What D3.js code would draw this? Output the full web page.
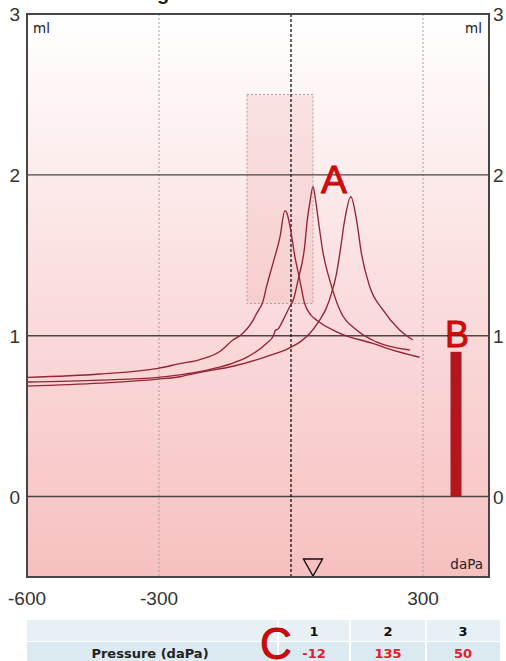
<!DOCTYPE html>
<html>
<head>
<meta charset="utf-8">
<script src="https://cdn.jsdelivr.net/npm/d3@7/dist/d3.min.js"></script>
<style>
  html, body { margin: 0; padding: 0; background: #ffffff; }
  svg { display: block; }
</style>
</head>
<body>
<svg id="chart" width="506" height="661"></svg>
<script>
// ---------- DATA ----------
const yTicks = [0, 1, 2, 3];
const xTickLabels = [-600, -300, 300];
const xGridDotted = [-300, 300];

// Test 1: peak at -12 daPa
const test1 = [
  [-600, 0.741], [-434, 0.762], [-302, 0.797], [-253, 0.826], [-207, 0.852],
  [-160, 0.905], [-132, 0.973], [-116, 1.0], [-86, 1.097], [-78, 1.139],
  [-63, 1.22], [-56, 1.30], [-41, 1.45], [-25, 1.615], [-14, 1.778],
  [-9, 1.76], [-3, 1.69], [9, 1.49], [20, 1.346], [31, 1.20],
  [45, 1.13], [58, 1.097], [111, 1.015], [186, 0.952], [224, 0.917], [292, 0.866]
];
// Test 2: peak at 135 daPa
const test2 = [
  [-600, 0.687], [-434, 0.705], [-302, 0.730], [-253, 0.745], [-207, 0.772],
  [-132, 0.81], [-56, 0.87], [-3, 0.925], [20, 0.96], [43, 1.015], [65, 1.097],
  [80, 1.17], [92, 1.263], [103, 1.38], [111, 1.512], [122, 1.719], [136, 1.864],
  [149, 1.719], [160, 1.512], [179, 1.304], [209, 1.16], [247, 1.035], [277, 0.973]
];
// Test 3: peak at 50 daPa
const test3 = [
  [-600, 0.712], [-434, 0.724], [-302, 0.741], [-253, 0.757], [-207, 0.776],
  [-177, 0.795], [-132, 0.83], [-101, 0.865], [-56, 0.952], [-40, 1.0],
  [-35, 1.035], [-30, 1.04], [-18, 1.097], [-3, 1.18], [5, 1.22], [16, 1.346],
  [31, 1.553], [37, 1.72], [43, 1.83], [50, 1.926], [56, 1.84], [62, 1.719],
  [73, 1.512], [88, 1.346], [111, 1.16], [149, 1.035], [194, 0.962], [270, 0.911]
];
const curves = [test1, test2, test3];

const normalBox = { x0: -100, x1: 50, y0: 1.2, y1: 2.5 };
const volumeBar = { pressure: 375, value: 0.90 };
const markerPressure = 50;

const tableHeaders = ["1", "2", "3"];
const tableRowLabel = "Pressure (daPa)";
const tableValues = ["-12", "135", "50"];

// ---------- LAYOUT ----------
const svg = d3.select("#chart");
const L = 27, R = 489, T = 14, B = 577;

const x = d3.scaleLinear().domain([-600, 450]).range([L, R]);
const y = d3.scaleLinear().domain([-0.5, 3]).range([B, T]);

// background gradient
const defs = svg.append("defs");
const grad = defs.append("linearGradient").attr("id", "bg")
  .attr("x1", 0).attr("y1", 0).attr("x2", 0).attr("y2", 1);
grad.append("stop").attr("offset", "0%").attr("stop-color", "#ffffff");
grad.append("stop").attr("offset", "45%").attr("stop-color", "#fbe0e0");
grad.append("stop").attr("offset", "100%").attr("stop-color", "#f7c0c0");

svg.append("rect").attr("x", L).attr("y", T).attr("width", R - L).attr("height", B - T)
  .attr("fill", "url(#bg)");

// title (cut off at the top edge; only a descender shows)
const title = svg.append("text").attr("y", 0)
  .attr("font-family", "Liberation Sans, Arial, sans-serif")
  .attr("font-weight", "bold").attr("font-size", 20).attr("fill", "#222")
  .text("Right");
const tmp = svg.append("text").attr("font-family", "Liberation Sans, Arial, sans-serif")
  .attr("font-weight", "bold").attr("font-size", 20).text("Ri");
const w = tmp.node().getComputedTextLength();
tmp.remove();
title.attr("x", 157 - w);

// normal region box
svg.append("rect")
  .attr("x", x(normalBox.x0)).attr("y", y(normalBox.y1))
  .attr("width", x(normalBox.x1) - x(normalBox.x0))
  .attr("height", y(normalBox.y0) - y(normalBox.y1))
  .attr("fill", "rgba(236,160,160,0.22)")
  .attr("stroke", "#a8a0a0").attr("stroke-width", 1).attr("stroke-dasharray", "2,2");

// dotted vertical grid
svg.selectAll(".vgrid").data(xGridDotted).enter().append("line")
  .attr("x1", d => x(d)).attr("x2", d => x(d)).attr("y1", T).attr("y2", B)
  .attr("stroke", "#a8a0a0").attr("stroke-width", 1).attr("stroke-dasharray", "2,2");

// horizontal grid
svg.selectAll(".hgrid").data([0, 1, 2]).enter().append("line")
  .attr("x1", L).attr("x2", R).attr("y1", d => y(d)).attr("y2", d => y(d))
  .attr("stroke", "#4a4545").attr("stroke-width", 1.4);

// zero pressure dashed line
svg.append("line").attr("x1", x(0)).attr("x2", x(0)).attr("y1", T).attr("y2", B)
  .attr("stroke", "#111").attr("stroke-width", 1.3).attr("stroke-dasharray", "3,2");

// curves
const line = d3.line().x(d => x(d[0])).y(d => y(d[1])).curve(d3.curveMonotoneX);
svg.selectAll(".curve").data(curves).enter().append("path")
  .attr("d", line).attr("fill", "none")
  .attr("stroke", "#932434").attr("stroke-width", 1.35);

// volume bar
svg.append("rect")
  .attr("x", x(volumeBar.pressure) - 5.5).attr("width", 11)
  .attr("y", y(volumeBar.value)).attr("height", y(0) - y(volumeBar.value))
  .attr("fill", "#b3171d");

// marker triangle
const mx = x(markerPressure);
svg.append("path")
  .attr("d", `M${mx - 9.5},${B - 18} L${mx + 9.5},${B - 18} L${mx},${B - 1} Z`)
  .attr("fill", "none").attr("stroke", "#111").attr("stroke-width", 1.4);

// frame
svg.append("rect").attr("x", L).attr("y", T).attr("width", R - L).attr("height", B - T)
  .attr("fill", "none").attr("stroke", "#4a4545").attr("stroke-width", 2);

// axis labels
const tickFont = "Liberation Sans, Arial, sans-serif";
svg.selectAll(".yl").data(yTicks).enter().append("text")
  .attr("x", 20).attr("y", d => y(d) + 7).attr("text-anchor", "end")
  .attr("font-family", tickFont).attr("font-size", 19).attr("fill", "#333").text(d => d);
svg.selectAll(".yr").data(yTicks).enter().append("text")
  .attr("x", 493).attr("y", d => y(d) + 7).attr("text-anchor", "start")
  .attr("font-family", tickFont).attr("font-size", 19).attr("fill", "#333").text(d => d);
svg.selectAll(".xl").data(xTickLabels).enter().append("text")
  .attr("x", d => x(d)).attr("y", 605).attr("text-anchor", "middle")
  .attr("font-family", tickFont).attr("font-size", 19).attr("fill", "#333").text(d => d);

const unitFont = "DejaVu Sans, Verdana, sans-serif";
svg.append("text").attr("x", 33).attr("y", 33).attr("font-family", unitFont)
  .attr("font-size", 13.5).attr("fill", "#222").text("ml");
svg.append("text").attr("x", 482).attr("y", 33).attr("text-anchor", "end").attr("font-family", unitFont)
  .attr("font-size", 13.5).attr("fill", "#222").text("ml");
svg.append("text").attr("x", 483).attr("y", 569).attr("text-anchor", "end").attr("font-family", unitFont)
  .attr("font-size", 13.5).attr("fill", "#222").text("daPa");

// A / B annotations
const annFont = "Liberation Sans, Arial, sans-serif";
svg.append("text").attr("x", 334).attr("y", 193).attr("text-anchor", "middle")
  .attr("font-family", annFont).attr("font-size", 39).attr("fill", "#dc0a0a")
  .attr("stroke", "#b80000").attr("stroke-width", 0.8).text("A");
svg.append("text").attr("x", 457).attr("y", 347).attr("text-anchor", "middle")
  .attr("font-family", annFont).attr("font-size", 36).attr("fill", "#dc0a0a")
  .attr("stroke", "#b80000").attr("stroke-width", 0.8).text("B");

// ---------- TABLE ----------
const tbl = svg.append("g");
tbl.append("rect").attr("x", 27).attr("y", 620).attr("width", 473).attr("height", 21).attr("fill", "#e6f0f5");
tbl.append("rect").attr("x", 27).attr("y", 642).attr("width", 473).attr("height", 20).attr("fill", "#dbe9f1");
[278, 350, 426].forEach(cx => {
  tbl.append("line").attr("x1", cx).attr("x2", cx).attr("y1", 620).attr("y2", 661)
    .attr("stroke", "#ffffff").attr("stroke-width", 2);
});
const colCenters = [314, 388, 463];
const tFont = "DejaVu Sans, Verdana, sans-serif";
tbl.selectAll(".th").data(tableHeaders).enter().append("text")
  .attr("x", (d, i) => colCenters[i]).attr("y", 636).attr("text-anchor", "middle")
  .attr("font-family", tFont).attr("font-weight", "bold").attr("font-size", 13).attr("fill", "#111").text(d => d);
tbl.selectAll(".tv").data(tableValues).enter().append("text")
  .attr("x", (d, i) => colCenters[i]).attr("y", 658).attr("text-anchor", "middle")
  .attr("font-family", tFont).attr("font-weight", "bold").attr("font-size", 13).attr("fill", "#e0202a").text(d => d);
tbl.append("text").attr("x", 150).attr("y", 658).attr("text-anchor", "middle")
  .attr("font-family", tFont).attr("font-weight", "bold").attr("font-size", 13).attr("fill", "#222").text(tableRowLabel);
svg.append("text").attr("x", 276).attr("y", 659).attr("text-anchor", "middle")
  .attr("font-family", annFont).attr("font-size", 44).attr("fill", "#d00a0a")
  .attr("stroke", "#b00000").attr("stroke-width", 0.8).text("C");
</script>
</body>
</html>
